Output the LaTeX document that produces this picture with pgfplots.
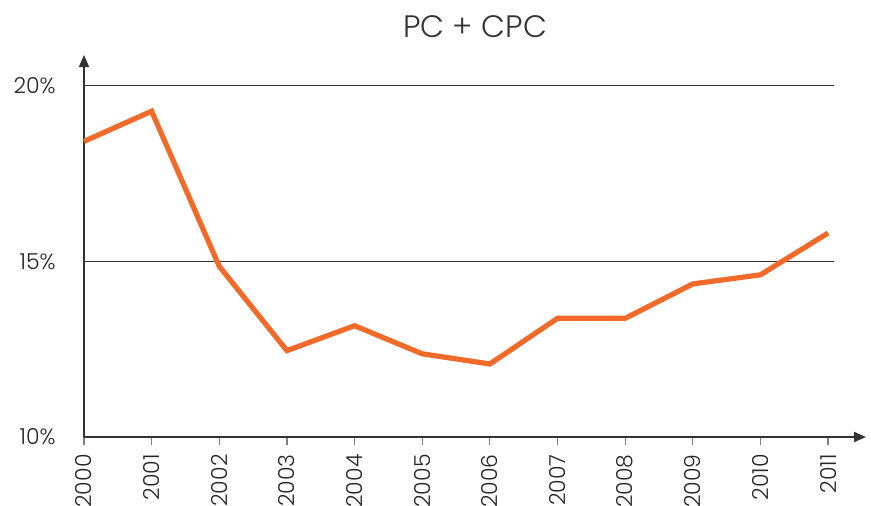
\documentclass[border=0pt]{standalone}
\usepackage{pgfplots}
\pgfplotsset{compat=1.18}
\usepackage{fontspec}
\setmainfont{Poppins}[UprightFont=* Light]
\usetikzlibrary{arrows.meta}
\definecolor{lineorange}{HTML}{F26A2A}
\definecolor{axisgray}{HTML}{333333}
\begin{document}
\begin{tikzpicture}
\begin{axis}[
  name=ax,
  scale only axis,
  width=391pt, height=191pt,
  xmin=2000, xmax=2011.56,
  ymin=10, ymax=20.88,
  axis lines=left,
  axis line style={axisgray, line width=0.8pt, -{Triangle[length=6pt,width=5pt]}},
  xtick={2000,...,2011},
  xticklabels={2000,2001,2002,2003,2004,2005,2006,2007,2008,2009,2010,2011},
  ytick={10,15,20},
  yticklabels={10\%,15\%,20\%},
  x tick style={gray, line width=0.6pt},
  tick align=outside,
  major tick length=4pt,
  y tick style={draw=none},
  xticklabel style={yshift=-4.5pt, rotate=90, anchor=east, font=\fontsize{11}{12}\selectfont, color=black!85, inner sep=0pt},
  yticklabel style={font=\fontsize{11}{12}\selectfont, color=black!85, inner sep=0pt, xshift=-10pt},
  title={PC + CPC},
  title style={font=\fontsize{15.5}{17}\selectfont, color=black!80, at={(0.5,1)}, anchor=base, yshift=3pt},
  clip=false,
]
\draw[axisgray, line width=0.5pt] (axis cs:2000,20) -- (axis cs:2011.09,20);
\draw[axisgray, line width=0.5pt] (axis cs:2000,15) -- (axis cs:2011.09,15);
\addplot[lineorange, line width=2.6pt, line join=miter, mark=none] coordinates {
  (2000,18.42) (2001,19.28) (2002,14.86) (2003,12.46) (2004,13.17) (2005,12.37)
  (2006,12.08) (2007,13.38) (2008,13.38) (2009,14.36) (2010,14.62) (2011,15.81)
};
\end{axis}
\pgfresetboundingbox
\useasboundingbox ([xshift=-42pt, yshift=-34pt]ax.south west) rectangle ([xshift=2.5pt, yshift=27.5pt]ax.north east);
\end{tikzpicture}
\end{document}
